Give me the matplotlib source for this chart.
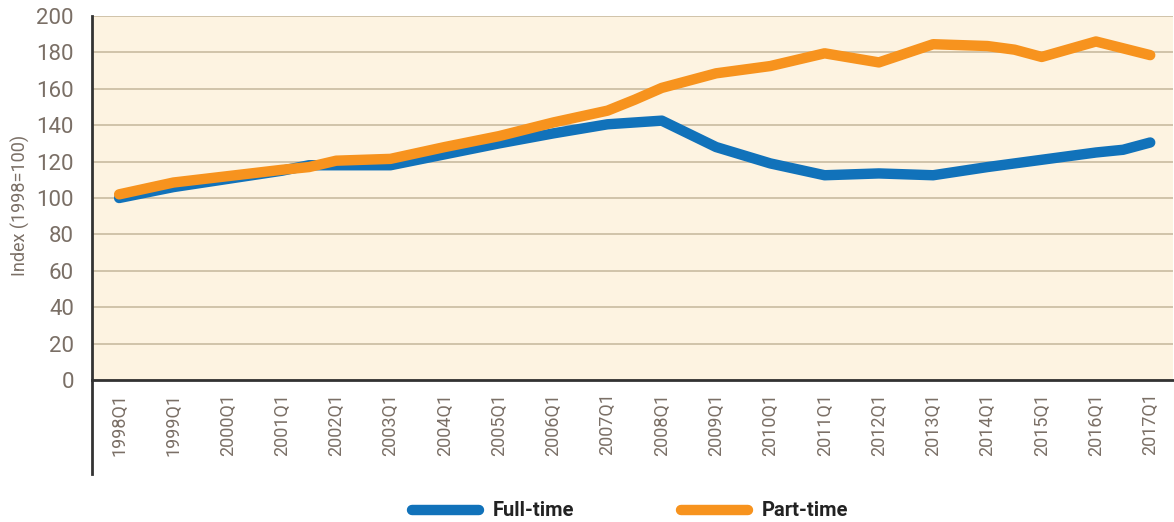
import matplotlib
matplotlib.use("Agg")
import matplotlib.pyplot as plt
from matplotlib.lines import Line2D

# ---- data ----
tick_labels = [f"{y}Q1" for y in range(1998, 2018)]

ft_quarters = ["1998Q1", "1999Q1", "2000Q1", "2001Q1", "2001Q3", "2002Q1", "2003Q1",
               "2004Q1", "2005Q1", "2006Q1", "2007Q1", "2008Q1", "2009Q1", "2010Q1",
               "2011Q1", "2012Q1", "2013Q1", "2014Q1", "2015Q1", "2016Q1", "2016Q3",
               "2017Q1"]
ft_values = [100, 106, 110.5, 115, 118, 118, 118, 124, 130, 135.5, 140.5, 142.5,
             128, 119, 112.5, 113.5, 112.5, 117, 121, 125, 126.5, 130.5]

pt_quarters = ["1998Q1", "1999Q1", "2000Q1", "2001Q1", "2001Q3", "2002Q1", "2003Q1",
               "2004Q1", "2005Q1", "2006Q1", "2007Q1", "2007Q3", "2008Q1", "2009Q1",
               "2010Q1", "2011Q1", "2012Q1", "2013Q1", "2014Q1", "2014Q3", "2015Q1",
               "2016Q1", "2017Q1"]
pt_values = [102, 108.5, 112, 115.5, 117, 120.5, 121.5, 128, 134, 141.5, 148, 154,
             160.5, 168.5, 172.5, 179.5, 174.5, 184.5, 183.5, 181.5, 177.5, 186, 178.5]

series_names = ["Full-time", "Part-time"]
colors = ["#1172BA", "#F7931E"]


def qpos(q):
    year, qq = q.split("Q")
    return int(year) - 1998 + (int(qq) - 1) / 4.0


FONT = ["Roboto", "DejaVu Sans"]
plt.rcParams["font.family"] = FONT
TXT = "#7A6F66"

fig = plt.figure(figsize=(11.74, 5.22), dpi=100)
ax = fig.add_axes([92 / 1174, 1 - 380 / 522, 1 - 92 / 1174 - 1 / 1174, (380 - 16) / 522])
ax.set_facecolor("#FDF3E1")

for qs, vals, c in [(ft_quarters, ft_values, colors[0]), (pt_quarters, pt_values, colors[1])]:
    ax.plot([qpos(q) for q in qs], vals, color=c, lw=7.5,
            solid_capstyle="round", solid_joinstyle="round", zorder=3)

ax.set_xlim(-0.5, 19.42)
ax.set_ylim(0, 200)
ax.set_yticks(range(0, 201, 20))
ax.yaxis.grid(True, color="#CDBFA6", lw=1.3)
ax.set_axisbelow(True)
ax.set_xticks(range(len(tick_labels)))
ax.set_xticklabels(tick_labels, rotation=90, fontsize=13, color=TXT)
ax.tick_params(axis="y", length=0, pad=13, labelsize=16, labelcolor=TXT)
ax.tick_params(axis="x", length=0, pad=9)
for s in ["top", "right"]:
    ax.spines[s].set_visible(False)
ax.spines["bottom"].set_color("#333333")
ax.spines["bottom"].set_linewidth(2)
ax.spines["left"].set_color("#333333")
ax.spines["left"].set_linewidth(2)

fig.text(20 / 1174, 1 - 205 / 522, "Index (1998=100)", rotation=90, fontsize=13,
         color=TXT, ha="center", va="center")

# left spine extension below axis
fig.add_artist(Line2D([92 / 1174, 92 / 1174], [1 - 380 / 522, 1 - 474 / 522],
                      transform=fig.transFigure, color="#333333", lw=2))

# legend
ly = 1 - 510 / 522
for (x0, x1, tx), name, c in zip([(412, 479, 493), (681, 748, 762)], series_names, colors):
    fig.add_artist(Line2D([x0 / 1174, x1 / 1174], [ly, ly], transform=fig.transFigure,
                          color=c, lw=7.5, solid_capstyle="round"))
    fig.text(tx / 1174, ly, name, fontsize=14.5, fontweight="bold", color="#222222",
             va="center", ha="left")

fig.savefig("out.png", dpi=100)
